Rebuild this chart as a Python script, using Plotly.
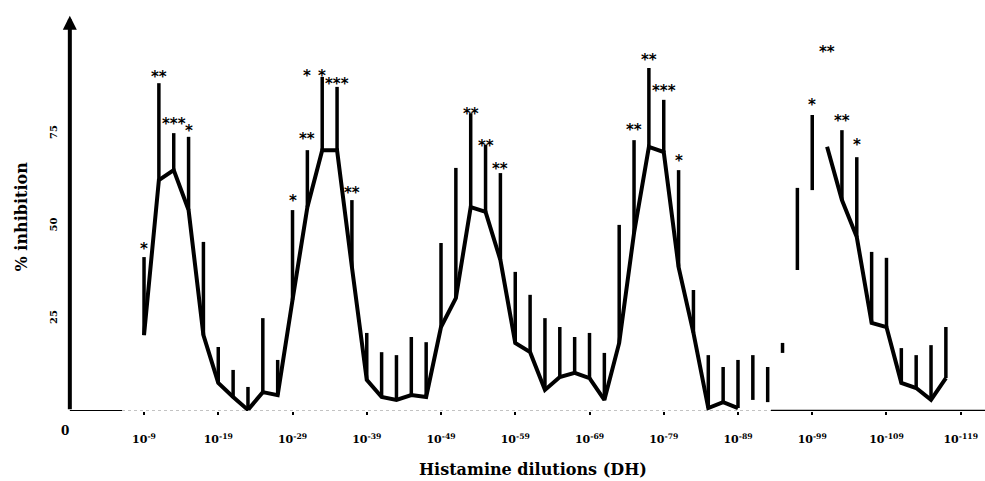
import plotly.graph_objects as go

# ---------------- data ----------------
dilution = [9, 11, 13, 15, 17, 19, 21, 23, 25, 27, 29, 31, 33, 35, 37, 39, 41, 43, 45, 47,
            49, 51, 53, 55, 57, 59, 61, 63, 65, 67, 69, 71, 73, 75, 77, 79, 81, 83, 85, 87,
            89, 91, 93, 95, 97, 99, 101, 103, 105, 107, 109, 111, 113, 115, 117]

mean_inhibition = [20.5, 62.4, 65.1, 54.3, 20.5, 7.6, 3.8, 0.3, 5.1, 4.3,
                   30.0, 55.1, 70.5, 70.5, 38.9, 8.4, 3.8, 3.0, 4.3, 3.8,
                   22.7, 30.5, 55.1, 53.8, 40.8, 18.4, 15.9, 5.7, 9.2, 10.3,
                   8.9, 3.0, 18.4, 48.1, 71.4, 70.0, 38.9, 21.1, 0.8, 2.4,
                   0.8, 3.0, 2.4, 15.7, 38.1, 59.7, 71.4, 57.0, 47.0, 23.8,
                   22.7, 7.6, 6.2, 3.0, 8.9]

upper_inhibition = [41.6, 88.6, 75.1, 74.1, 45.7, 17.3, 11.1, 6.5, 25.1, 13.8,
                    54.3, 70.5, 90.3, 87.6, 57.0, 21.1, 15.9, 15.1, 20.0, 18.6,
                    45.4, 65.7, 80.5, 71.9, 64.3, 37.6, 31.4, 25.1, 22.7, 20.0,
                    21.1, 15.7, 50.3, 73.2, 92.7, 84.1, 65.1, 32.7, 15.1, 11.9,
                    13.8, 15.1, 11.9, 18.4, 60.3, 80.0, None, 75.9, 68.6, 43.0,
                    41.4, 17.0, 15.1, 17.8, 22.7]

# dilutions where the mean line is missing in the original figure
no_line_at = [91, 93, 95, 97, 99]

sig_dilution = [9, 11, 13, 15, 29, 31, 31, 33, 35, 37, 53, 55, 57, 75, 77, 79, 81, 99, 101, 103, 105]
sig_text = ["*", "**", "***", "*", "*", "**", "*", "*", "***", "**", "**", "**", "**",
            "**", "**", "***", "*", "*", "**", "**", "*"]
sig_level = [44.3, 90.8, 78.1, 76.2, 57.3, 74.1, 91.1, 91.1, 88.9, 59.5, 80.8, 72.2, 65.9,
             76.5, 95.4, 87.0, 68.1, 83.2, 97.6, 78.9, 72.4]

tick_exponents = [9, 19, 29, 39, 49, 59, 69, 79, 89, 99, 109, 119]
tick_labels = ["<b>10<sup>-%d</sup></b>" % e for e in tick_exponents]
y_ticks = [25, 50, 75]

# ---------------- build traces ----------------
bar_x, bar_y = [], []
for d, m, u in zip(dilution, mean_inhibition, upper_inhibition):
    if u is None:
        continue
    bar_x += [d, d, None]
    bar_y += [m, u, None]

line_y = [None if d in no_line_at else m for d, m in zip(dilution, mean_inhibition)]

fig = go.Figure()
fig.add_trace(go.Scatter(x=bar_x, y=bar_y, mode="lines",
                         line=dict(color="black", width=3.5), hoverinfo="skip",
                         showlegend=False))
fig.add_trace(go.Scatter(x=dilution, y=line_y, mode="lines", connectgaps=False,
                         line=dict(color="black", width=4), showlegend=False))

annotations = []
for d, t, lv in zip(sig_dilution, sig_text, sig_level):
    annotations.append(dict(x=d, y=lv, xref="x", yref="y", text="<b>%s</b>" % t, showarrow=False,
                            font=dict(family="DejaVu Sans", size=15, color="black"),
                            xanchor="center", yanchor="middle", yshift=-2))

# y-axis with arrow
annotations.append(dict(x=0.002, y=106.8, xref="paper", yref="y", text="", showarrow=True,
                        ax=0, ay=395, axref="pixel", ayref="pixel",
                        arrowhead=2, arrowsize=0.7, arrowwidth=4, arrowcolor="black"))
# origin label
annotations.append(dict(x=-0.003, y=0, xref="paper", yref="y", text="<b>0</b>",
                        showarrow=False, yshift=-20, xshift=-6, yanchor="middle",
                        font=dict(family="DejaVu Serif", size=12, color="black")))
# axis titles
annotations.append(dict(x=0, y=0.484, xref="paper", yref="paper", xshift=-58,
                        text="<b>% inhibition</b>", textangle=-90, showarrow=False,
                        font=dict(family="DejaVu Serif", size=16, color="black")))
annotations.append(dict(x=(533 - 68) / 917, y=0, xref="paper", yref="paper", yshift=-58,
                        yanchor="middle",
                        text="<b>Histamine dilutions (DH)</b>", showarrow=False,
                        font=dict(family="DejaVu Serif", size=16, color="black")))

shapes = [
    dict(type="line", xref="paper", yref="y", x0=0.002, x1=(122 - 68) / 917, y0=0, y1=0,
         line=dict(color="black", width=2)),
    dict(type="line", xref="paper", yref="y", x0=(122 - 68) / 917, x1=(771 - 68) / 917,
         y0=0, y1=0, line=dict(color="#b0b0b0", width=1.5, dash="dot")),
    dict(type="line", xref="paper", yref="y", x0=(771 - 68) / 917, x1=1, y0=0, y1=0,
         line=dict(color="black", width=2.5)),
]

fig.update_layout(
    width=985, height=481,
    margin=dict(l=68, r=0, t=10, b=70, autoexpand=False),
    paper_bgcolor="white", plot_bgcolor="white",
    annotations=annotations, shapes=shapes,
    xaxis=dict(range=[-1.24, 122.27], showgrid=False, zeroline=False, showline=False,
               automargin=False,
               tickvals=tick_exponents, ticktext=tick_labels,
               ticks="outside", ticklen=3, tickwidth=2, tickcolor="black",
               tickfont=dict(family="DejaVu Serif", size=11, color="black"),
               ticklabelstandoff=15),
    yaxis=dict(range=[0, 108.38], showgrid=False, zeroline=False, showline=False,
               automargin=False,
               tickvals=y_ticks, ticktext=["<b>%d</b>" % v for v in y_ticks],
               tickangle=-90, ticks="",
               tickfont=dict(family="DejaVu Serif", size=10, color="black"),
               ticklabelstandoff=8),
)

fig.write_html("out.html", config={"displayModeBar": False},
               post_script="document.body.style.margin='0px';document.body.style.padding='0px';")
